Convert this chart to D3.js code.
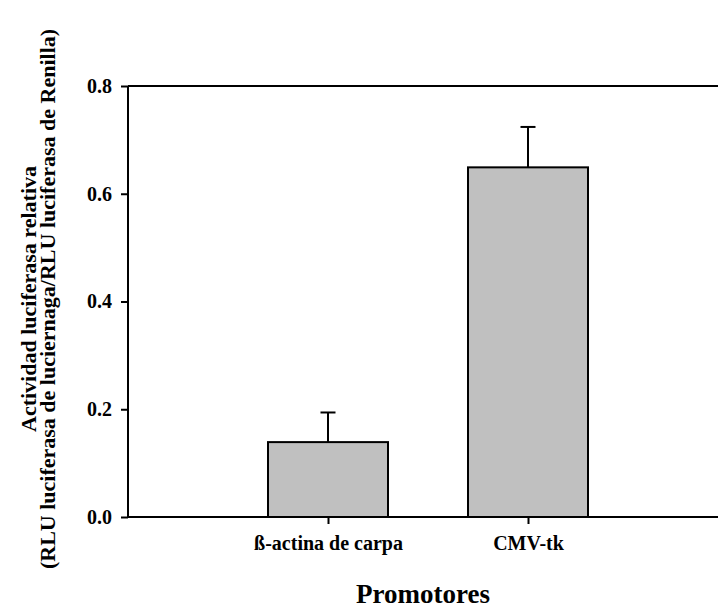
<!DOCTYPE html>
<html><head><meta charset="utf-8">
<script src="https://cdn.jsdelivr.net/npm/d3@7"></script>
<style>body{margin:0;background:#fff}svg{display:block}
text{font-family:"Liberation Serif","Times New Roman",Times,serif;font-weight:bold;fill:#000}</style>
</head><body>
<script>
const categories = ["ß-actina de carpa", "CMV-tk"];
const values = [0.139, 0.649];
const errors = [0.055, 0.075];
const yTicks = [0.0, 0.2, 0.4, 0.6, 0.8];
const yTitle1 = "Actividad luciferasa relativa";
const yTitle2 = "(RLU luciferasa de luciernaga/RLU luciferasa de Renilla)";
const xTitle = "Promotores";

const W = 718, H = 608;
const m = {left: 128, right: 0, top: 86, bottom: 91};
const FF = '"Liberation Serif","Times New Roman",Times,serif';
const svg = d3.select("body").append("svg").attr("width", W).attr("height", H);

const y = d3.scaleLinear().domain([0, 0.8]).range([H - m.bottom, m.top]);
const x = d3.scaleLinear().domain([0, 2.95]).range([m.left, W - m.right]);
const barW = 120;

const g = svg.append("g");
g.selectAll("rect.bar").data(values).enter().append("rect")
  .attr("x", (d, i) => x(i + 1) - barW / 2).attr("width", barW)
  .attr("y", d => y(d)).attr("height", d => y(0) - y(d))
  .attr("fill", "#c0c0c0").attr("stroke", "#000").attr("stroke-width", 2);
values.forEach((v, i) => {
  const cx = x(i + 1);
  g.append("line").attr("x1", cx).attr("x2", cx).attr("y1", y(v)).attr("y2", y(v + errors[i]))
    .attr("stroke", "#000").attr("stroke-width", 2);
  g.append("line").attr("x1", cx - 7.5).attr("x2", cx + 7.5).attr("y1", y(v + errors[i])).attr("y2", y(v + errors[i]))
    .attr("stroke", "#000").attr("stroke-width", 2);
});

const yAxis = svg.append("g").attr("transform", `translate(${m.left},0)`)
  .call(d3.axisLeft(y).tickValues(yTicks).tickFormat(d3.format(".1f")).tickSize(7).tickPadding(9));
const xAxis = svg.append("g").attr("transform", `translate(0,${y(0)})`)
  .call(d3.axisBottom(x).tickValues([1, 2]).tickFormat((d) => categories[d - 1]).tickSize(7).tickPadding(12));
[yAxis, xAxis].forEach(a => {
  a.attr("font-family", FF).attr("font-size", 20).attr("font-weight", "bold");
  a.selectAll("path").attr("stroke", "#000").attr("stroke-width", 2);
  a.selectAll("line").attr("stroke", "#000").attr("stroke-width", 2);
  a.selectAll("text").attr("fill", "#000");
});
xAxis.select("path").attr("d", `M${m.left},0H${W}`);
yAxis.select("path").attr("d", `M0,${y(0)}V${y(0.8)}`);
svg.append("line").attr("x1", m.left).attr("x2", W).attr("y1", y(0.8)).attr("y2", y(0.8))
  .attr("stroke", "#000").attr("stroke-width", 2);

const cy = 299;
svg.append("text").attr("transform", `translate(36,${cy}) rotate(-90)`).attr("text-anchor", "middle")
  .attr("font-size", 22).text(yTitle1);
svg.append("text").attr("transform", `translate(55,${cy}) rotate(-90)`).attr("text-anchor", "middle")
  .attr("font-size", 22).text(yTitle2);
svg.append("text").attr("x", (m.left + W) / 2).attr("y", 603).attr("text-anchor", "middle")
  .attr("font-size", 27).text(xTitle);
</script>
</body></html>
